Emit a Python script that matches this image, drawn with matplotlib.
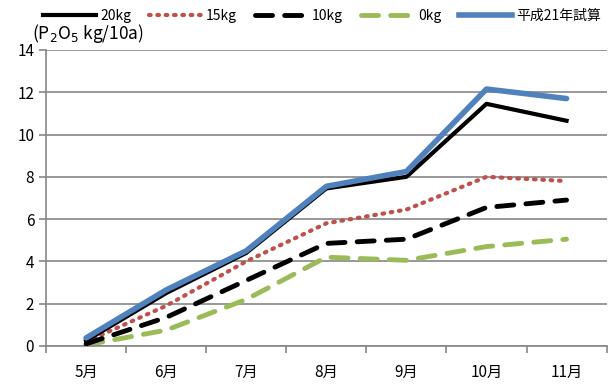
import matplotlib
matplotlib.use('Agg')
import matplotlib.pyplot as plt
from matplotlib.lines import Line2D

plt.rcParams['font.family'] = ['Noto Sans CJK JP', 'DejaVu Sans']

months = ['5月', '6月', '7月', '8月', '9月', '10月', '11月']
p20 = [0.25, 2.5, 4.4, 7.45, 8.0, 11.45, 10.65]
p15 = [0.2, 1.9, 4.0, 5.8, 6.45, 8.0, 7.8]
p10 = [0.1, 1.35, 3.1, 4.85, 5.05, 6.55, 6.9]
p0 = [0.05, 0.75, 2.2, 4.2, 4.05, 4.7, 5.05]
h21 = [0.38, 2.65, 4.5, 7.55, 8.25, 12.15, 11.7]

fig = plt.figure(figsize=(6.08, 3.87), dpi=100)
ax = fig.add_axes([0.0757, 0.106, 0.922, 0.765])
x = range(len(months))

dot = (0, (0.4, 1.6))
dash = (0, (3.5, 2.5))

ax.plot(x, h21, color='#4F81BD', lw=4.0, solid_capstyle='round', zorder=5)
ax.plot(x, p20, color='black', lw=3.0, zorder=4)
ax.plot(x, p15, color='#C0504D', lw=3.0, linestyle=dot, dash_capstyle='round', zorder=3)
ax.plot(x, p10, color='black', lw=3.5, linestyle=dash, dash_capstyle='round', zorder=3)
ax.plot(x, p0, color='#9BBB59', lw=3.5, linestyle=dash, dash_capstyle='round', zorder=2)

ax.set_xlim(-0.5, 6.5)
ax.set_ylim(0, 14)
ax.set_yticks(range(0, 15, 2))
ax.set_xticks(list(x))
ax.set_xticklabels(months)
ax.set_xticks([i - 0.5 for i in range(8)], minor=True)
ax.tick_params(axis='x', which='major', length=0, pad=13, labelsize=11)
ax.tick_params(axis='x', which='minor', length=5, width=1.2, color='#868686')
ax.tick_params(axis='y', length=5, width=1.2, color='#868686', labelsize=11)
ax.grid(axis='y', color='#868686', lw=1.2)
ax.set_axisbelow(True)
for side in ['top', 'right']:
    ax.spines[side].set_visible(False)
for side in ['left', 'bottom']:
    ax.spines[side].set_color('#868686')
    ax.spines[side].set_linewidth(1.2)

fig.text(0.052, 0.885, r'(P$_2$O$_5$ kg/10a)', fontsize=12.5, va='bottom')

handles = [
    Line2D([], [], color='black', lw=3.0),
    Line2D([], [], color='#C0504D', lw=3.0, linestyle=dot, dash_capstyle='round'),
    Line2D([], [], color='black', lw=3.5, linestyle=dash, dash_capstyle='round'),
    Line2D([], [], color='#9BBB59', lw=3.5, linestyle=dash, dash_capstyle='round'),
    Line2D([], [], color='#4F81BD', lw=4.0),
]
labels = ['20kg', '15kg', '10kg', '0kg', '平成21年試算']
fig.legend(handles, labels, loc='upper center', bbox_to_anchor=(0.53, 1.01), ncol=5,
           frameon=False, fontsize=10, handlelength=3.8, handletextpad=0.3,
           columnspacing=1.3)

fig.savefig('out.png', dpi=100)
